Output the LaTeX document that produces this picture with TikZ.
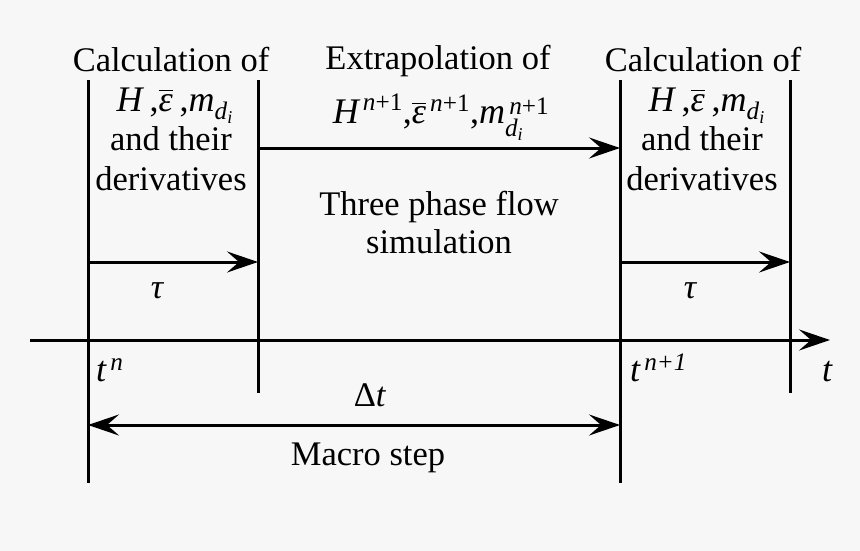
\documentclass[tikz,border=0pt]{standalone}
\usepackage{amsmath}
\usepackage{fontspec}
\setmainfont{Liberation Serif}
\usetikzlibrary{arrows.meta}
\definecolor{bg}{HTML}{F7F7F7}
\newcommand\iv[1]{\text{\itshape #1}}
\newcommand\cm{\text{,}}
\begin{document}
\begin{tikzpicture}[x=1pt,y=-1pt,
  line/.style={line width=3pt},
  tip/.tip={Stealth[length=31pt,width=21pt,inset=12pt]},
  arr/.style={line width=3pt,-tip},
  darr/.style={line width=3pt,tip-tip},
  lbl/.style={inner sep=0pt,anchor=base,font=\fontsize{34.5}{40}\selectfont},
  mlbl/.style={inner sep=0pt,anchor=base,font=\fontsize{36}{40}\selectfont}]
\fill[bg] (0,0) rectangle (860,551);
\useasboundingbox (0,0) rectangle (860,551);
% coordinates
\coordinate (a1) at (88,80);   \coordinate (a2) at (88,483);
\coordinate (b1) at (258,80);  \coordinate (b2) at (258,393);
\coordinate (c1) at (620,80);  \coordinate (c2) at (620,483);
\coordinate (d1) at (790,80);  \coordinate (d2) at (790,393);
\coordinate (ax0) at (30,340); \coordinate (ax1) at (830,340);
\coordinate (ta0) at (88,262); \coordinate (ta1) at (258,262);
\coordinate (tb0) at (620,262); \coordinate (tb1) at (790,262);
\coordinate (ex0) at (258,148); \coordinate (ex1) at (620,148);
\coordinate (dt0) at (88,425); \coordinate (dt1) at (620,425);
% lines
\draw[line] (a1) -- (a2);
\draw[line] (b1) -- (b2);
\draw[line] (c1) -- (c2);
\draw[line] (d1) -- (d2);
\draw[arr] (ax0) -- (ax1);
\draw[arr] (ta0) -- (ta1);
\draw[arr] (tb0) -- (tb1);
\draw[arr] (ex0) -- (ex1);
\draw[darr] (dt0) -- (dt1);
% left column
\node[lbl] (l1) at (171,72) {Calculation of};
\node[mlbl] (l2) at (175,111) {$\iv{H}\;\cm\overline{\iv{ε}}\;\cm\iv{m}_{\iv{d}_{\iv{i}}}$};
\node[lbl] (l3) at (171,150) {and their};
\node[lbl] (l4) at (171,190) {derivatives};
% right column
\node[lbl] (r1) at (703,72) {Calculation of};
\node[mlbl] (r2) at (707,111) {$\iv{H}\;\cm\overline{\iv{ε}}\;\cm\iv{m}_{\iv{d}_{\iv{i}}}$};
\node[lbl] (r3) at (702,150) {and their};
\node[lbl] (r4) at (702,190) {derivatives};
% middle
\node[lbl] (m1) at (438,70) {Extrapolation of};
\node[mlbl] (m2) at (441,124) {$\iv{H}^{\,\iv{n}\text{+1}}\cm\overline{\iv{ε}}^{\,\iv{n}\text{+1}}\cm\iv{m}_{\iv{d}_{\iv{i}}}^{\,\iv{n}\text{+1}}$};
\node[lbl] (m3) at (439,215) {Three phase flow};
\node[lbl] (m4) at (439,253) {simulation};
% tau
\node[lbl] (tau1) at (157,298) {\itshape τ};
\node[lbl] (tau2) at (690,298) {\itshape τ};
% time labels
\node[mlbl,anchor=base west] (tn) at (96,381) {$\iv{t}^{\,\iv{n}}$};
\node[mlbl,anchor=base west] (tn1) at (630,381) {$\iv{t}^{\,\iv{n+1}}$};
\node[mlbl,anchor=base west] (tt) at (822,381) {\itshape t};
\node[lbl] (dt) at (370,406) {Δ\textit{t}};
\node[lbl] (ms) at (368,465) {Macro step};
\end{tikzpicture}
\end{document}
